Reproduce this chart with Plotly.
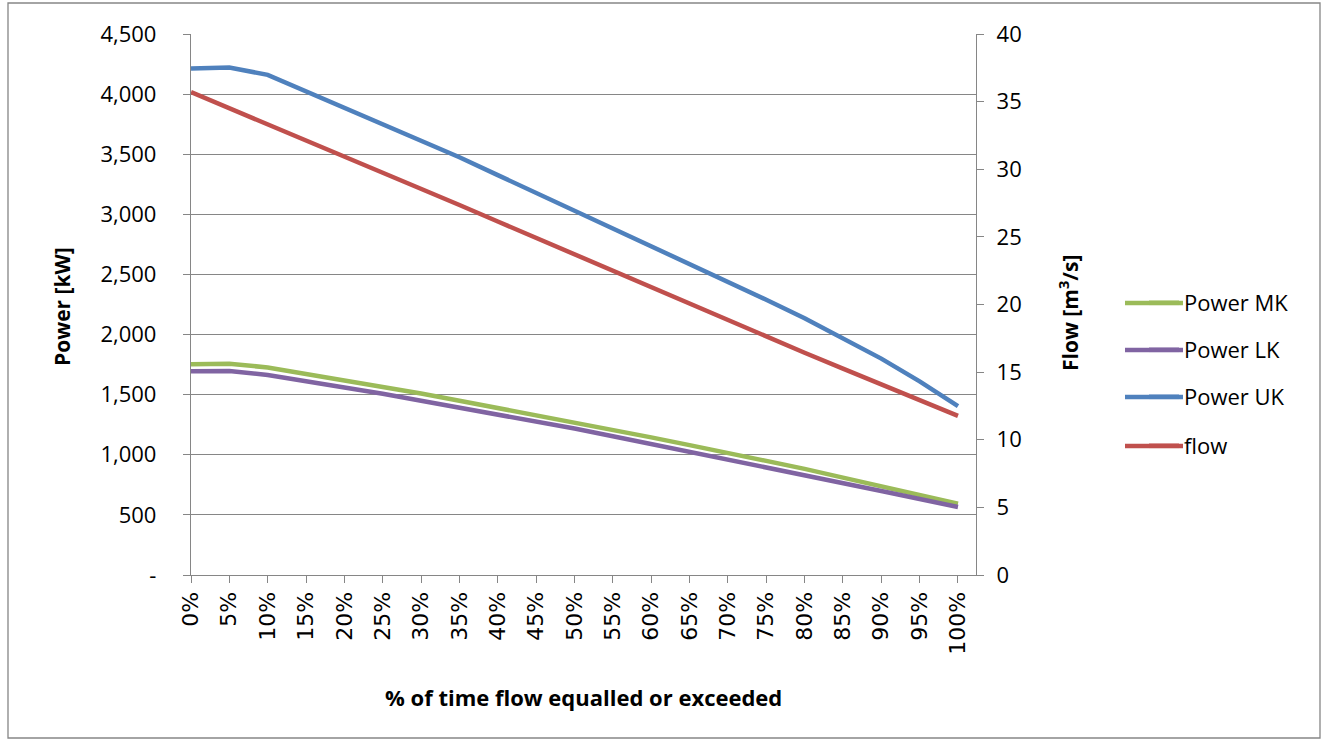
import plotly.graph_objects as go

# ---------------- data ----------------
categories = ["0%", "5%", "10%", "15%", "20%", "25%", "30%", "35%", "40%", "45%", "50%",
              "55%", "60%", "65%", "70%", "75%", "80%", "85%", "90%", "95%", "100%"]

power_mk = [1752, 1758, 1726, 1673, 1620, 1568, 1510, 1450, 1390, 1331, 1272,
            1210, 1145, 1080, 1015, 955, 883, 810, 738, 665, 593]
power_lk = [1694, 1697, 1664, 1614, 1562, 1508, 1450, 1393, 1335, 1276, 1218,
            1154, 1090, 1027, 963, 900, 833, 766, 699, 632, 565]
power_uk = [4212, 4221, 4160, 4023, 3885, 3755, 3620, 3475, 3326, 3178, 3030,
            2885, 2740, 2595, 2445, 2290, 2135, 1972, 1800, 1610, 1405]
flow = [35.7, 34.52, 33.34, 32.16, 30.98, 29.8, 28.58, 27.36, 26.14, 24.92, 23.7,
        22.48, 21.26, 20.04, 18.82, 17.6, 16.43, 15.26, 14.09, 12.92, 11.76]

power_ticks = [0, 500, 1000, 1500, 2000, 2500, 3000, 3500, 4000, 4500]
power_ticktext = ["-", "500", "1,000", "1,500", "2,000", "2,500", "3,000", "3,500", "4,000", "4,500"]
flow_ticks = [0, 5, 10, 15, 20, 25, 30, 35, 40]

series_names = ["Power MK", "Power LK", "Power UK", "flow"]
series_colors = ["#9BBB59", "#8064A2", "#4F81BD", "#C0504D"]

# ---------------- layout geometry (pixels) ----------------
W, H = 1328, 743
PL, PR, PT, PB = 191, 976, 34, 575
AX = "#868686"
FONT = "Open Sans"
LW = 4.5

def fx(px):
    return px / W

def fy(py):
    return 1 - py / H

fig = go.Figure()

ys = [power_mk, power_lk, power_uk, flow]
axes = ["y", "y", "y", "y2"]
legends = ["legend", "legend2", "legend3", "legend4"]
for name, col, vals, ax, lg in zip(series_names, series_colors, ys, axes, legends):
    fig.add_trace(go.Scatter(
        x=categories, y=vals, name=name, mode="lines", yaxis=ax,
        line=dict(color=col, width=LW), legend=lg, hoverinfo="x+y+name",
    ))

# legend positions (one legend per entry so spacing matches)
leg_y = [303, 350, 397, 446]
LEG_X = 1144
leg_layout = {}
for lg, yy in zip(legends, leg_y):
    leg_layout[lg] = dict(
        x=fx(LEG_X), y=fy(yy), xanchor="left", yanchor="middle",
        bgcolor="rgba(0,0,0,0)", borderwidth=0,
        font=dict(family=FONT, size=22, color="#000000"),
        itemwidth=30,
    )

# Excel-like longer legend line samples
shapes = []
for col, yy in zip(series_colors, leg_y):
    shapes.append(dict(type="line", xref="paper", yref="paper",
                       x0=fx(1125), x1=fx(1183), y0=fy(yy), y1=fy(yy),
                       line=dict(color=col, width=LW), layer="above"))

# chart area border
shapes.append(dict(type="rect", xref="paper", yref="paper",
                   x0=fx(8), x1=fx(1320), y0=fy(3), y1=fy(738),
                   line=dict(color=AX, width=1.3), fillcolor="rgba(0,0,0,0)", layer="below"))

fig.update_layout(
    width=W, height=H,
    margin=dict(l=0, r=0, t=0, b=0, autoexpand=False),
    paper_bgcolor="white", plot_bgcolor="white",
    font=dict(family=FONT, size=22, color="#000000"),
    showlegend=True,
    shapes=shapes,
    xaxis=dict(
        domain=[fx(PL), fx(PR)],
        type="category",
        range=[0, 20.47],
        tickmode="array", tickvals=categories, ticktext=categories,
        tickangle=-90,
        ticks="outside", ticklen=7, tickcolor=AX, tickwidth=1.3,
        showline=True, linecolor=AX, linewidth=1.3,
        showgrid=False, zeroline=False, automargin=False,
        tickfont=dict(family="DejaVu Sans", size=22, color="#000000"),
        ticklabelstandoff=0,
        anchor="y",
    ),
    yaxis=dict(
        domain=[fy(PB), fy(PT)],
        range=[0, 4500],
        tickmode="array", tickvals=power_ticks, ticktext=power_ticktext,
        ticks="outside", ticklen=7, tickcolor=AX, tickwidth=1.3,
        showline=True, linecolor=AX, linewidth=1.3,
        showgrid=True, gridcolor=AX, gridwidth=1.3,
        zeroline=False, automargin=False,
        tickfont=dict(family=FONT, size=22, color="#000000"),
        ticklabelstandoff=22,
    ),
    yaxis2=dict(
        overlaying="y", side="right", anchor="x",
        range=[0, 40],
        tickmode="array", tickvals=flow_ticks,
        ticks="outside", ticklen=7, tickcolor=AX, tickwidth=1.3,
        showline=True, linecolor=AX, linewidth=1.3,
        showgrid=False, zeroline=False, automargin=False,
        tickfont=dict(family=FONT, size=22, color="#000000"),
        ticklabelstandoff=8,
    ),
    annotations=[
        dict(text="<b>Power [kW]</b>", x=fx(62), y=fy(307), xref="paper", yref="paper",
             showarrow=False, textangle=-90, xanchor="center", yanchor="middle",
             font=dict(family=FONT, size=21, color="#000000")),
        dict(text="<b>Flow [m<sup>3</sup>/s]</b>", x=fx(1068), y=fy(313), xref="paper", yref="paper",
             showarrow=False, textangle=-90, xanchor="center", yanchor="middle",
             font=dict(family=FONT, size=21, color="#000000")),
        dict(text="<b>% of time flow equalled or exceeded</b>", x=fx(583), y=fy(697),
             xref="paper", yref="paper", showarrow=False, xanchor="center", yanchor="middle",
             font=dict(family=FONT, size=22, color="#000000")),
    ],
    **leg_layout,
)

fig.write_html("out.html")
